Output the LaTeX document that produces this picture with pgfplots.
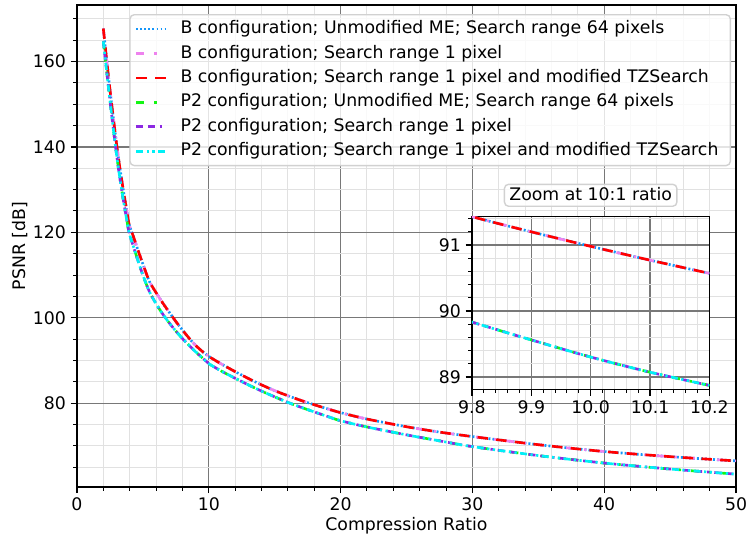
\documentclass[border=0pt]{standalone}
\usepackage{pgfplots}
\pgfplotsset{compat=1.18}
\usepackage{pgfplotstable}
\usepackage{fontspec}
\setmainfont{DejaVu Sans}
\definecolor{cBa}{RGB}{20,150,250}
\definecolor{cBb}{RGB}{238,130,238}
\definecolor{cBc}{RGB}{255,0,0}
\definecolor{cPa}{RGB}{20,245,20}
\definecolor{cPb}{RGB}{140,40,226}
\definecolor{cPc}{RGB}{0,240,245}
\definecolor{gmaj}{RGB}{120,120,120}
\definecolor{gmin}{RGB}{225,225,225}
\newcommand{\ffs}{\fontsize{12.5}{15}\selectfont}
\newcommand{\rp}{\hspace*{5bp}}

\pgfplotstableread{
x y
2.0 167.7
2.25 160.5
2.5 153.5
2.75 147.0
3.0 140.8
3.25 135.2
3.5 130.2
3.75 125.6
3.95 122.0
4.25 119.3
4.5 117.0
5.0 112.6
5.5 108.5
6.0 105.9
6.5 103.5
7.0 101.3
7.5 99.15
8.0 97.15
8.5 95.25
9.0 93.55
9.5 92.15
9.8 91.43
9.9 91.20
10.0 90.98
10.1 90.77
10.2 90.57
11 89.1
12 87.4
13 85.8
14 84.3
15 82.95
16 81.75
17 80.65
18 79.65
19 78.7
20 77.8
22 76.3
25 74.5
27.5 73.25
30 72.2
35 70.3
40 68.7
45 67.5
50 66.5
}\Bdata

\pgfplotstableread{
x y
2.0 164.7
2.25 157.8
2.5 151.0
2.75 144.5
3.0 138.3
3.25 132.8
3.5 127.9
3.75 123.4
3.95 120.0
4.25 117.0
4.5 114.6
5.0 110.0
5.5 106.1
6.0 103.3
6.5 100.9
7.0 98.8
7.5 96.9
8.0 95.15
8.5 93.55
9.0 92.05
9.5 90.65
9.8 89.83
9.9 89.56
10.0 89.30
10.1 89.07
10.2 88.87
11 87.45
12 85.85
13 84.3
14 82.85
15 81.5
16 80.2
17 79.05
18 77.97
19 76.92
20 75.9
22 74.45
25 72.6
27.5 71.2
30 69.85
35 67.75
40 66.0
45 64.6
50 63.4
}\Pdata

\pgfplotsset{
  sBa/.style={cBa, line width=1.9bp, dash pattern=on 1.4bp off 1.5bp},
  sBb/.style={cBb, line width=1.9bp, dash pattern=on 5.8bp off 7.2bp on 1.6bp off 7.2bp},
  sBc/.style={cBc, line width=1.9bp, dash pattern=on 7.5bp off 6bp},
  sPa/.style={cPa, line width=1.9bp, dash pattern=on 5.8bp off 7.2bp on 1.6bp off 7.2bp},
  sPb/.style={cPb, line width=1.9bp, dash pattern=on 5bp off 3.6bp on 5bp off 3.6bp on 1.6bp off 3.6bp},
  sPc/.style={cPc, line width=1.9bp, dash pattern=on 5bp off 2.5bp on 1.6bp off 2.5bp on 1.6bp off 2.5bp},
  common/.style={
    scale only axis,
    grid=both,
    major grid style={line width=1bp, color=gmaj},
    minor grid style={line width=0.75bp, color=gmin},
    tick align=outside, xtick pos=bottom, ytick pos=left,
    major tick length=4.5bp, minor tick length=2.6bp,
    every tick/.style={black, line width=1bp},
    minor tick style={black, line width=0.75bp},
    axis line style={line width=1bp},
    /pgf/number format/assume math mode=true,
    tick label style={font=\ffs},
  },
}

\begin{document}
\begin{tikzpicture}
\useasboundingbox (-55.4bp,-37.4bp) rectangle (482.4bp,350.6bp);
\begin{axis}[common,
  at={(0,0)}, anchor=south west, width=474.5bp, height=347bp,
  xmin=0, xmax=50, ymin=60.4, ymax=173.2,
  xtick={0,10,20,30,40,50},
  ytick={80,100,120,140,160},
  minor xtick={2,4,6,8,12,14,16,18,22,24,26,28,32,34,36,38,42,44,46,48},
  minor ytick={65,70,75,85,90,95,105,110,115,125,130,135,145,150,155,165,170},
  xlabel={Compression Ratio}, ylabel={PSNR [dB]},
  every axis x label/.style={at={(axis description cs:0.5,-0.081)}, anchor=center, font=\ffs},
  every axis y label/.style={at={(axis description cs:-0.0870,0.5)}, rotate=90, anchor=center, font=\ffs},
  legend image code/.code={\draw[#1] (0bp,0bp) -- (21.6bp,0bp); \path (30.9bp,0bp);},
  legend style={at={(1,1)}, anchor=north east, xshift=-3.6bp, yshift=-6.5bp,
    draw=black!18, line width=1bp, rounded corners=3bp, fill=white, fill opacity=0.8,
    text opacity=1, draw opacity=1, inner xsep=3.6bp, inner ysep=1.5bp,
    font=\ffs,
    nodes={text height=9.4bp, text depth=2.8bp, inner ysep=2.7bp, inner xsep=0bp}},
  legend cell align=left,
]
\addplot[sBa, smooth] table[x=x,y=y] {\Bdata};
\addlegendentry{B configuration; Unmodified ME; Search range 64 pixels\rp}
\addplot[sBb, smooth] table[x=x,y=y] {\Bdata};
\addlegendentry{B configuration; Search range 1 pixel\rp}
\addplot[sBc, smooth] table[x=x,y=y] {\Bdata};
\addlegendentry{B configuration; Search range 1 pixel and modified TZSearch\rp}
\addplot[sPa, smooth] table[x=x,y=y] {\Pdata};
\addlegendentry{P2 configuration; Unmodified ME; Search range 64 pixels\rp}
\addplot[sPb, smooth] table[x=x,y=y] {\Pdata};
\addlegendentry{P2 configuration; Search range 1 pixel\rp}
\addplot[sPc, smooth] table[x=x,y=y] {\Pdata};
\addlegendentry{P2 configuration; Search range 1 pixel and modified TZSearch\rp}
\end{axis}

\begin{axis}[common,
  at={(284.4bp,70.3bp)}, anchor=south west, width=170.9bp, height=124.3bp,
  xmin=9.8, xmax=10.2, ymin=88.81, ymax=91.43,
  axis background/.style={fill=white},
  xtick={9.8,9.9,10.0,10.1,10.2},
  xticklabels={9.8,9.9,10.0,10.1,10.2},
  ytick={89,90,91},
  minor xtick={9.82,9.84,9.86,9.88,9.92,9.94,9.96,9.98,10.02,10.04,10.06,10.08,10.12,10.14,10.16,10.18},
  minor ytick={89.2,89.4,89.6,89.8,90.2,90.4,90.6,90.8,91.2,91.4},
  title={Zoom at 10:1 ratio},
  every axis title/.style={at={(axis description cs:0.5,1)}, anchor=south, yshift=7bp,
    draw=black!18, line width=1bp, rounded corners=3bp, fill=white, fill opacity=0.8,
    text opacity=1, draw opacity=1, inner xsep=3.6bp, inner ysep=1.8bp,
    text height=9.5bp, text depth=2.7bp, font=\ffs},
]
\addplot[sBa, smooth, restrict x to domain=9.5:10.5] table[x=x,y=y] {\Bdata};
\addplot[sBb, smooth, restrict x to domain=9.5:10.5] table[x=x,y=y] {\Bdata};
\addplot[sBc, smooth, restrict x to domain=9.5:10.5] table[x=x,y=y] {\Bdata};
\addplot[sPa, smooth, restrict x to domain=9.5:10.5] table[x=x,y=y] {\Pdata};
\addplot[sPb, smooth, restrict x to domain=9.5:10.5] table[x=x,y=y] {\Pdata};
\addplot[sPc, smooth, restrict x to domain=9.5:10.5] table[x=x,y=y] {\Pdata};
\end{axis}
\end{tikzpicture}
\end{document}
